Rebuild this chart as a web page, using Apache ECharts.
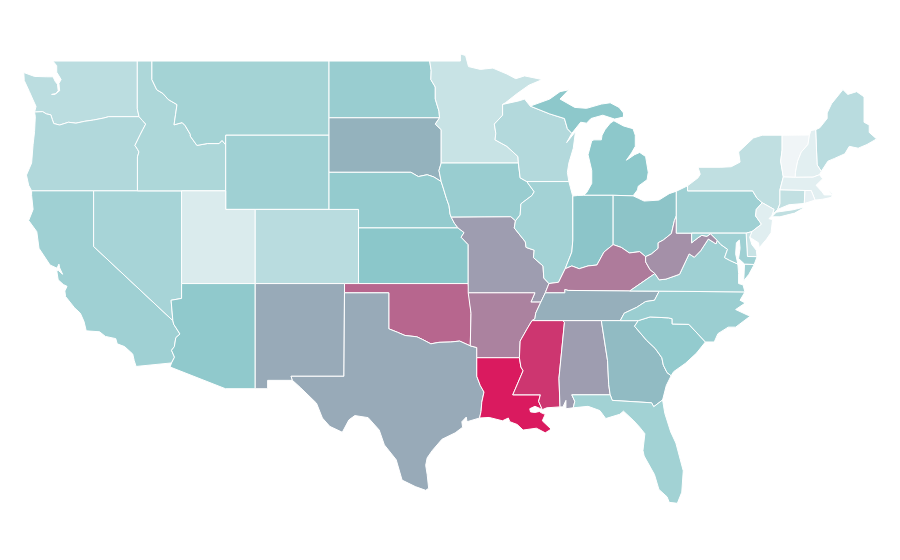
<!DOCTYPE html>
<html>
<head>
<meta charset="utf-8">
<title>USA</title>
<script src="https://cdn.jsdelivr.net/npm/echarts@6/dist/echarts.min.js"></script>
<style>
html, body { margin: 0; padding: 0; background: #fff; }
#main { width: 900px; height: 560px; }
</style>
</head>
<body>
<div id="main"></div>
<script>
var states = ['Washington', 'Oregon', 'California', 'Nevada', 'Idaho', 'Montana', 'Wyoming', 'Utah', 'Colorado', 'Arizona',
    'New Mexico', 'North Dakota', 'South Dakota', 'Nebraska', 'Kansas', 'Oklahoma', 'Texas', 'Minnesota', 'Iowa', 'Missouri',
    'Arkansas', 'Louisiana', 'Wisconsin', 'Illinois', 'Michigan', 'Indiana', 'Ohio', 'Kentucky', 'Tennessee', 'Mississippi',
    'Alabama', 'Georgia', 'Florida', 'South Carolina', 'North Carolina', 'Virginia', 'West Virginia', 'Pennsylvania', 'New York', 'Maine',
    'Vermont', 'New Hampshire', 'Massachusetts', 'Connecticut', 'Rhode Island', 'New Jersey', 'Delaware', 'Maryland'];
var rates = [26, 31, 40, 36, 33, 37.5, 40, 11, 27, 47.6,
    58.5, 43, 56, 45.6, 50, 78, 58.5, 20, 43, 62,
    70, 100, 30, 38, 49, 50.5, 51, 72, 57, 92,
    62, 53.5, 38.5, 46, 42, 40, 66, 40, 24, 27,
    0, 7, 7, 23, 5, 8, 20, 40];

// state outlines in lon,lat, simplified by hand
var outlines = {
    'Washington': ['-122.76,49 -117.04,49 -117.04,46.42 -116.92,46 -118.98,46 -119.3,45.93 -120,45.82 -120.6,45.75 -121.2,45.65 -121.7,45.7 -122.3,45.55 -122.7,45.63 -122.8,45.85 -122.9,46.1 -123.2,46.15 -123.45,46.27 -124,46.25 -123.9,46.55 -124.1,46.9 -124.35,47.35 -124.7,47.95 -124.73,48.38 -124,48.17 -123.2,48.15 -122.75,48.15 -122.6,47.9 -122.45,47.75 -122.4,47.4 -122.6,47.2 -122.85,47.2 -122.55,47.25 -122.3,47.4 -122.35,47.8 -122.2,48 -122.5,48.4 -122.5,48.75'],
    'Oregon': ['-124,46.25 -123.45,46.27 -123.2,46.15 -122.9,46.1 -122.8,45.85 -122.7,45.63 -122.3,45.55 -121.7,45.7 -121.2,45.65 -120.6,45.75 -120,45.82 -119.3,45.93 -118.98,46 -116.92,46 -116.7,45.8 -116.47,45.6 -116.67,45.3 -116.85,45.02 -117.2,44.45 -117.03,44.25 -116.93,44.1 -117.03,43.83 -117.03,42 -124.2,42 -124.4,42.3 -124.55,42.85 -124.2,43.5 -124.1,44.5 -124,45.2 -123.95,46'],
    'California': ['-124.2,42 -120,42 -120,39 -114.63,35 -114.57,34.8 -114.15,34.28 -114.43,34.08 -114.53,33.6 -114.72,33.4 -114.52,33.03 -114.72,32.72 -117.12,32.53 -117.25,32.85 -117.35,33.2 -117.9,33.6 -118.4,33.75 -118.5,34.03 -119.2,34.15 -119.6,34.4 -120.5,34.45 -120.65,34.95 -120.9,35.4 -121.3,35.7 -121.9,36.3 -121.95,36.6 -121.8,36.85 -122.05,36.95 -122.4,37.2 -122.5,37.7 -122.38,37.7 -122.1,37.5 -122.3,37.85 -122.35,38.05 -122.48,37.83 -122.95,38 -123.7,38.9 -123.85,39.8 -124.4,40.4 -124.1,41 -124.2,41.75'],
    'Nevada': ['-120,42 -114.04,42 -114.04,36.2 -114.75,36.1 -114.63,35 -120,39'],
    'Idaho': ['-117.04,49 -116.05,49 -116.05,48 -115.72,47.45 -115.3,47.25 -114.95,46.93 -114.35,46.65 -114.45,46.1 -114.55,45.56 -114,45.68 -113.8,45.52 -113.45,45.05 -113.45,44.95 -113,44.45 -112.3,44.55 -111.5,44.55 -111.3,44.72 -111.05,44.48 -111.05,42 -117.03,42 -117.03,43.83 -116.93,44.1 -117.03,44.25 -117.2,44.45 -116.85,45.02 -116.67,45.3 -116.47,45.6 -116.7,45.8 -116.92,46 -117.04,46.42'],
    'Montana': ['-116.05,49 -104.05,49 -104.05,45 -111.05,45 -111.05,44.48 -111.3,44.72 -111.5,44.55 -112.3,44.55 -113,44.45 -113.45,44.95 -113.45,45.05 -113.8,45.52 -114,45.68 -114.55,45.56 -114.45,46.1 -114.35,46.65 -114.95,46.93 -115.3,47.25 -115.72,47.45 -116.05,48'],
    'Wyoming': ['-111.05,45 -104.05,45 -104.05,41 -111.05,41'],
    'Utah': ['-114.04,42 -111.05,42 -111.05,41 -109.05,41 -109.05,37 -114.04,37'],
    'Colorado': ['-109.05,41 -102.05,41 -102.05,37 -109.05,37'],
    'Arizona': ['-114.04,37 -109.05,37 -109.05,31.33 -111.07,31.33 -114.82,32.5 -114.72,32.72 -114.52,33.03 -114.72,33.4 -114.53,33.6 -114.43,34.08 -114.15,34.28 -114.57,34.8 -114.63,35 -114.75,36.1 -114.04,36.2'],
    'New Mexico': ['-109.05,37 -103,37 -103.04,32 -106.62,32 -106.53,31.78 -108.21,31.78 -108.21,31.33 -109.05,31.33'],
    'North Dakota': ['-104.05,49 -97.23,49 -97.13,48.5 -97.15,48 -96.85,47.6 -96.85,46.95 -96.6,46.3 -96.56,45.94 -104.05,45.94'],
    'South Dakota': ['-104.05,45.94 -96.56,45.94 -96.85,45.6 -96.45,45.3 -96.45,43.5 -96.6,43.1 -96.45,42.5 -96.95,42.75 -97.4,42.87 -98,42.77 -98.5,43 -104.05,43'],
    'Nebraska': ['-104.05,43 -98.5,43 -98,42.77 -97.4,42.87 -96.95,42.75 -96.45,42.5 -96.27,42.05 -96.1,41.6 -95.92,41.2 -95.85,40.75 -95.77,40.58 -95.55,40.25 -95.31,40 -102.05,40 -102.05,41 -104.05,41'],
    'Kansas': ['-102.05,40 -95.31,40 -94.9,39.75 -95.1,39.5 -94.62,39.1 -94.62,37 -102.05,37'],
    'Oklahoma': ['-103,37 -94.62,37 -94.43,35.4 -94.48,33.64 -95.2,33.9 -95.8,33.85 -96.6,33.83 -97.15,33.75 -97.7,33.98 -98.1,34.13 -98.9,34.2 -99.4,34.37 -100,34.56 -100,36.5 -103,36.5'],
    'Texas': ['-103,36.5 -100,36.5 -100,34.56 -99.4,34.37 -98.9,34.2 -98.1,34.13 -97.7,33.98 -97.15,33.75 -96.6,33.83 -95.8,33.85 -95.2,33.9 -94.48,33.64 -94.04,33.55 -94.04,33 -94.04,32 -93.8,31.5 -93.55,31.15 -93.7,30.6 -93.75,30.1 -93.85,29.75 -94.7,29.55 -94.75,29.8 -95.05,29.55 -95,29.25 -95.5,28.95 -96.4,28.6 -97.05,28 -97.4,27.6 -97.5,27.2 -97.4,26.7 -97.3,25.96 -97.5,25.85 -98.2,26.05 -99.1,26.4 -99.5,27.5 -100.3,28.3 -100.65,29.1 -101.4,29.77 -102.3,29.88 -102.7,29.65 -103.15,28.98 -104,29.3 -104.5,29.75 -104.9,30.55 -106,31.4 -106.53,31.78 -106.62,32 -103.04,32'],
    'Minnesota': ['-97.23,49 -95.15,49 -95.15,49.38 -94.8,49.3 -94.6,48.7 -93.8,48.55 -92.95,48.62 -92,48.3 -91.4,48.05 -90.8,48.2 -89.6,48 -90.5,47.7 -91.3,47.25 -92.1,46.75 -92.29,46.66 -92.29,46.08 -92.85,45.6 -92.75,45.1 -92.8,44.75 -92,44.4 -91.25,43.85 -91.22,43.5 -96.45,43.5 -96.45,45.3 -96.85,45.6 -96.56,45.94 -96.6,46.3 -96.85,46.95 -96.85,47.6 -97.15,48 -97.13,48.5'],
    'Iowa': ['-96.45,43.5 -91.22,43.5 -91.1,42.7 -90.65,42.5 -90.15,41.95 -90.3,41.75 -91.05,41.3 -91.1,40.7 -91.42,40.38 -91.73,40.6 -95.77,40.58 -95.85,40.75 -95.92,41.2 -96.1,41.6 -96.27,42.05 -96.45,42.5 -96.6,43.1'],
    'Missouri': ['-95.77,40.58 -91.73,40.6 -91.42,40.38 -91.5,40 -90.75,39.25 -90.7,38.95 -90.15,38.8 -90.2,38.4 -89.55,37.95 -89.5,37.3 -89.15,37 -89.4,36.5 -89.7,36 -90.37,36 -90.1,36.5 -94.62,36.5 -94.62,39.1 -95.1,39.5 -94.9,39.75 -95.31,40 -95.55,40.25'],
    'Arkansas': ['-94.62,36.5 -90.1,36.5 -90.37,36 -89.7,36 -90.05,35.4 -90.1,35.1 -90.3,35 -90.6,34.6 -91.1,33.9 -91.15,33 -94.04,33 -94.04,33.55 -94.48,33.64 -94.43,35.4'],
    'Louisiana': ['-94.04,33 -91.15,33 -91.05,32.5 -90.9,32.3 -91.6,31 -89.73,31 -89.85,30.65 -89.6,30.2 -89.8,30.28 -90.1,30.38 -90.45,30.25 -90.4,30.08 -90.1,30.05 -89.8,30.1 -89.6,30 -89.4,29.95 -89.6,29.6 -89,29.15 -89.4,28.95 -90,29.2 -90.9,29.1 -91.3,29.4 -91.8,29.55 -91.9,29.75 -92.3,29.6 -93.2,29.78 -93.85,29.75 -93.75,30.1 -93.7,30.6 -93.55,31.15 -93.8,31.5 -94.04,32'],
    'Wisconsin': ['-92.29,46.66 -91.2,46.85 -90.8,46.95 -90.42,46.57 -89.1,46.15 -88.1,45.9 -87.9,45.35 -87.6,45.1 -87.95,44.6 -87.35,45.2 -87.5,44.3 -87.8,43.5 -87.9,43 -87.8,42.5 -90.65,42.5 -91.1,42.7 -91.22,43.5 -91.25,43.85 -92,44.4 -92.8,44.75 -92.75,45.1 -92.85,45.6 -92.29,46.08'],
    'Illinois': ['-90.65,42.5 -87.8,42.5 -87.55,41.75 -87.53,41.72 -87.53,39.35 -87.6,38.7 -88.05,37.8 -88.5,37.07 -89.15,37 -89.5,37.3 -89.55,37.95 -90.2,38.4 -90.15,38.8 -90.7,38.95 -90.75,39.25 -91.5,40 -91.42,40.38 -91.1,40.7 -91.05,41.3 -90.3,41.75 -90.15,41.95'],
    'Michigan': [
        '-86.8,41.76 -84.8,41.76 -83.45,41.73 -83.15,42.05 -83.1,42.25 -82.5,42.6 -82.42,43 -82.6,43.85 -83,44.07 -83.35,43.95 -83.9,43.65 -83.55,44.05 -83.3,44.4 -83.3,45 -83.45,45.35 -84.1,45.5 -84.75,45.78 -85,45.65 -85.35,45.3 -85.55,45 -85.6,44.75 -86.1,44.75 -86.25,44.7 -86.5,43.95 -86.25,43.1 -86.25,42.4 -86.6,41.9',
        '-90.42,46.57 -89.1,46.95 -88.4,47.35 -87.8,47.45 -88.4,46.95 -87.4,46.5 -86.6,46.45 -85.6,46.68 -85,46.75 -84.4,46.5 -84.1,46.2 -84.1,45.98 -84.7,45.87 -85.5,46.08 -86.3,45.9 -86.6,45.65 -87,45.7 -87.6,45.1 -87.9,45.35 -88.1,45.9 -89.1,46.15'
    ],
    'Indiana': ['-87.53,41.72 -87.2,41.75 -86.8,41.76 -84.8,41.76 -84.8,39.1 -85.42,38.7 -85.9,38 -86.5,37.95 -87.1,37.8 -87.6,37.95 -88.05,37.8 -87.6,38.7 -87.53,39.35'],
    'Ohio': ['-84.8,41.76 -83.45,41.73 -83.1,41.6 -82.7,41.45 -81.7,41.5 -81,41.85 -80.52,41.98 -80.52,40.64 -80.65,40.4 -80.85,39.7 -81.4,39.35 -81.75,39.2 -81.75,38.9 -82.2,38.6 -82.6,38.45 -83,38.72 -83.7,38.65 -84.25,38.95 -84.8,39.1'],
    'Kentucky': ['-89.4,36.5 -89.15,37 -88.5,37.07 -88.05,37.8 -87.6,37.95 -87.1,37.8 -86.5,37.95 -85.9,38 -85.42,38.7 -84.8,39.1 -84.25,38.95 -83.7,38.65 -83,38.72 -82.6,38.45 -82.6,38.17 -82.3,37.75 -81.97,37.54 -83.68,36.6 -87.85,36.63 -88.07,36.68 -88.07,36.5'],
    'Tennessee': ['-90.3,35 -90.1,35.1 -90.05,35.4 -89.7,36 -89.4,36.5 -88.07,36.5 -88.07,36.68 -87.85,36.63 -83.68,36.6 -81.68,36.59 -82,36.1 -82.6,36.03 -83.2,35.72 -84.05,35.4 -84.32,35 -85.6,35 -88.2,35'],
    'Mississippi': ['-91.15,33 -91.1,33.9 -90.6,34.6 -90.3,35 -88.2,35 -88.1,34.9 -88.47,31.9 -88.4,30.35 -89.3,30.3 -89.6,30.2 -89.85,30.65 -89.73,31 -91.6,31 -90.9,32.3 -91.05,32.5'],
    'Alabama': ['-88.2,35 -85.6,35 -85.18,32.85 -85.1,31.55 -85,31 -87.6,31 -87.4,30.65 -87.5,30.3 -88,30.25 -88,30.7 -88.2,30.35 -88.4,30.35 -88.47,31.9 -88.1,34.9'],
    'Georgia': ['-85.6,35 -84.32,35 -83.1,35 -83.35,34.7 -82.55,33.95 -81.95,33.5 -81.5,33 -81.4,32.6 -81.15,32.2 -80.87,32.03 -81.2,31.5 -81.45,30.72 -82.05,30.36 -82.2,30.57 -84.86,30.7 -85,31 -85.1,31.55 -85.18,32.85'],
    'Florida': ['-87.6,31 -85,31 -84.86,30.7 -82.2,30.57 -82.05,30.36 -81.45,30.72 -81.3,30 -80.9,29 -80.55,28.4 -80.05,26.9 -80.15,25.75 -80.45,25.15 -81,25.2 -81.15,25.5 -81.7,25.9 -82,26.7 -82.7,27.7 -82.78,28 -82.65,28.9 -83,29.25 -83.4,29.6 -84.1,30.12 -84.35,29.95 -85.3,29.72 -85.7,30.15 -86.5,30.38 -87.5,30.3 -87.4,30.65'],
    'South Carolina': ['-83.1,35 -82.3,35.2 -81.05,35.15 -80.8,35.1 -80.8,34.82 -79.67,34.8 -78.55,33.85 -79.15,33.25 -79.9,32.7 -80.7,32.25 -80.87,32.03 -81.15,32.2 -81.4,32.6 -81.5,33 -81.95,33.5 -82.55,33.95 -83.35,34.7'],
    'North Carolina': ['-84.32,35 -84.05,35.4 -83.2,35.72 -82.6,36.03 -82,36.1 -81.68,36.59 -75.87,36.55 -76.2,36.1 -75.85,35.95 -76.5,35.6 -75.7,35.3 -75.5,35.25 -76.5,34.65 -77,34.65 -77.7,34.3 -77.95,33.85 -78.55,33.85 -79.67,34.8 -80.8,34.82 -80.8,35.1 -81.05,35.15 -82.3,35.2 -83.1,35'],
    'Virginia': [
        '-83.68,36.6 -81.97,37.54 -81.68,37.2 -81.22,37.24 -80.3,37.5 -79.65,38.6 -79.3,38.42 -78.87,38.77 -78.35,39.4 -77.83,39.14 -77.75,39.33 -77.5,39.1 -77.05,38.85 -77.25,38.4 -76.9,38.25 -76.35,38.05 -76.3,37.55 -76.3,37 -76,36.93 -75.87,36.55 -81.68,36.59',
        '-75.24,38.03 -75.9,38.05 -75.95,37.15 -75.6,37.5'
    ],
    'West Virginia': ['-80.52,40.64 -80.52,39.72 -79.48,39.72 -79.48,39.2 -79.05,39.47 -78.8,39.6 -78.45,39.55 -78.2,39.68 -77.75,39.33 -77.83,39.14 -78.35,39.4 -78.87,38.77 -79.3,38.42 -79.65,38.6 -80.3,37.5 -81.22,37.24 -81.68,37.2 -81.97,37.54 -82.3,37.75 -82.6,38.17 -82.6,38.45 -82.2,38.6 -81.75,38.9 -81.75,39.2 -81.4,39.35 -80.85,39.7 -80.65,40.4'],
    'Pennsylvania': ['-80.52,41.98 -79.76,42.27 -79.76,42 -75.35,42 -75.05,41.6 -74.7,41.36 -75.1,41 -75.15,40.65 -74.75,40.2 -75.4,39.8 -75.79,39.72 -79.48,39.72 -80.52,39.72 -80.52,40.64'],
    'New York': [
        '-79.76,42.27 -79.05,42.7 -78.9,42.9 -79.05,43.27 -77.5,43.27 -76.8,43.3 -76.2,43.55 -76.3,44.1 -75.3,44.85 -74.7,45 -73.35,45 -73.35,44.2 -73.45,43.6 -73.27,42.75 -73.5,42.05 -73.5,41.3 -73.65,41 -73.9,40.8 -74,40.7 -73.9,41 -74.7,41.36 -75.05,41.6 -75.35,42 -79.76,42',
        '-74.05,40.6 -73.75,40.85 -72.6,40.98 -72,41.1 -71.9,41.07 -72.5,40.8 -73.5,40.6'
    ],
    'Maine': ['-71.08,45.3 -70.8,45.4 -70.3,45.9 -70.3,46.2 -70,46.7 -69.23,47.46 -68.9,47.2 -68.3,47.35 -67.8,47.07 -67.8,45.7 -67.45,45.55 -67.45,45.15 -66.95,44.8 -67.6,44.5 -68.2,44.3 -68.8,44.4 -69.1,44 -69.8,43.75 -70.25,43.6 -70.7,43.05 -70.98,43.4'],
    'Vermont': ['-73.35,45 -71.5,45.01 -71.6,44.5 -72.05,44.1 -72.3,43.6 -72.45,43 -72.46,42.73 -73.27,42.75 -73.45,43.6 -73.35,44.2'],
    'New Hampshire': ['-71.5,45.01 -71.4,45.25 -71.08,45.3 -70.98,43.4 -70.7,43.05 -70.82,42.87 -71.25,42.74 -72.46,42.73 -72.45,43 -72.3,43.6 -72.05,44.1 -71.6,44.5'],
    'Massachusetts': ['-73.5,42.05 -73.27,42.75 -72.46,42.73 -71.25,42.74 -70.82,42.87 -70.6,42.65 -71.05,42.3 -70.65,41.95 -70.5,41.78 -70,41.78 -70.25,42.07 -69.95,41.85 -70,41.65 -70.6,41.55 -71.12,41.5 -71.38,42.02 -71.8,42.02'],
    'Connecticut': ['-73.5,42.05 -71.8,42.02 -71.85,41.32 -72.9,41.25 -73.65,41 -73.5,41.3'],
    'Rhode Island': ['-71.8,42.02 -71.38,42.02 -71.12,41.5 -71.85,41.32'],
    'New Jersey': ['-74.7,41.36 -73.9,41 -74.05,40.65 -74.25,40.5 -74,40.45 -74.1,39.75 -74.4,39.4 -74.9,38.93 -74.95,39.2 -75.55,39.5 -75.4,39.8 -74.75,40.2 -75.15,40.65 -75.1,41'],
    'Delaware': ['-75.79,39.72 -75.4,39.8 -75.55,39.5 -75.4,39.1 -75.1,38.8 -75.05,38.45 -75.7,38.46'],
    'Maryland': ['-79.48,39.72 -75.79,39.72 -75.7,38.46 -75.05,38.45 -75.24,38.03 -75.9,38.05 -76.3,38.35 -76.2,38.9 -76.25,39.35 -76.45,39.2 -76.5,38.6 -76.35,38.05 -76.9,38.25 -77.25,38.4 -77.05,38.85 -77.5,39.1 -77.75,39.33 -78.2,39.68 -78.45,39.55 -78.8,39.6 -79.05,39.47 -79.48,39.2']
};

function parseRing(text) {
    var ring = text.split(' ').map(function (pair) {
        return pair.split(',').map(Number);
    });
    ring.push(ring[0]);
    return ring;
}

var features = states.map(function (name) {
    return {
        type: 'Feature',
        properties: {name: name},
        geometry: {
            type: 'MultiPolygon',
            coordinates: outlines[name].map(function (text) { return [parseRing(text)]; })
        }
    };
});
echarts.registerMap('USA', {type: 'FeatureCollection', features: features});

var seriesData = states.map(function (name, i) {
    return {name: name, value: rates[i]};
});

var myChart = echarts.init(document.getElementById('main'));
myChart.setOption({
    animation: false,
    visualMap: {
        show: false,
        min: 0,
        max: 100,
        inRange: {
            color: ['#f0f5f7', '#8bc7ca', '#da1a5f']
        }
    },
    series: [
        {
            type: 'map',
            map: 'USA',
            aspectScale: 0.797,
            left: 23.8,
            top: 54,
            width: 852.8,
            height: 449.3,
            label: {show: false},
            itemStyle: {
                borderColor: '#fff',
                borderWidth: 1
            },
            data: seriesData
        }
    ]
});
</script>
</body>
</html>
